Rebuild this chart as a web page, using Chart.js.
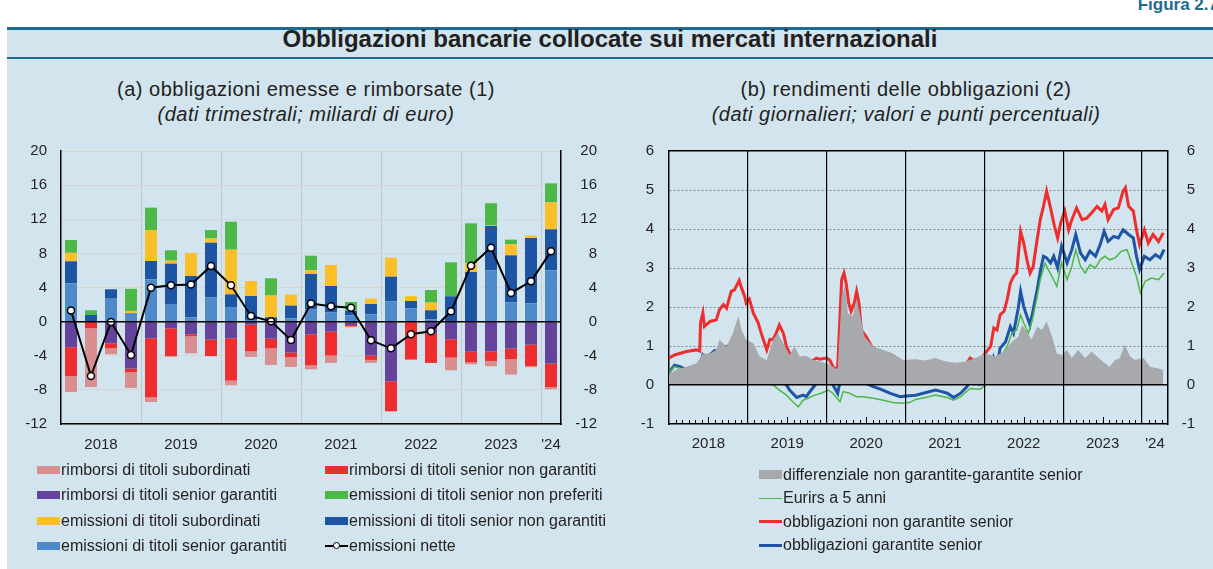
<!DOCTYPE html>
<html lang="it">
<head>
<meta charset="utf-8">
<title>Obbligazioni bancarie collocate sui mercati internazionali</title>
<script src="https://cdn.jsdelivr.net/npm/chart.js@4.4.1/dist/chart.umd.min.js"></script>
<style>
  body { margin:0; width:1213px; height:569px; position:relative; overflow:hidden; background:#fff;
         font-family:"Liberation Sans", Arial, sans-serif; color:#231f20; }
  #panel { position:absolute; left:7px; right:0; top:28px; bottom:0; background:#d2e4ee; }
  .rule { position:absolute; left:7px; right:0; background:#1d6b8f; }
  #fig { position:absolute; right:-5px; top:-5px; font-weight:bold; font-size:17px; color:#1d6b8f; white-space:nowrap; }
  #title { position:absolute; left:7px; right:0; top:28px; height:22px; line-height:22px; text-align:center; font-weight:bold; font-size:24px; }
  .sub { position:absolute; top:77px; width:440px; text-align:center; font-size:20px; line-height:25px; letter-spacing:0.5px; white-space:nowrap; }
  .sub i { display:block; }
  .wrap { position:absolute; top:137px; height:328px; overflow:hidden; }
  .wrap canvas { position:absolute; left:0; top:-2px; }
  .legend { position:absolute; display:grid; font-size:16px; }
  .item { display:flex; align-items:center; white-space:nowrap; }
  .sw { width:23px; flex:none; margin-right:1px; position:relative; }
  .dot { position:absolute; left:8px; top:-3px; width:5px; height:5px; border:1.5px solid #000; border-radius:50%; background:#fff; }
</style>
</head>
<body>
<div id="panel"></div>
<div id="fig">Figura 2.7</div>
<div class="rule" style="top:27px;height:3px"></div>
<div id="title">Obbligazioni bancarie collocate sui mercati internazionali</div>
<div class="rule" style="top:57px;height:2px"></div>
<div class="sub" style="left:86px">(a) obbligazioni emesse e rimborsate (1)<i>(dati trimestrali; miliardi di euro)</i></div>
<div class="sub" style="left:686px">(b) rendimenti delle obbligazioni (2)<i>(dati giornalieri; valori e punti percentuali)</i></div>

<div class="wrap" style="left:0;width:610px"><canvas id="cA" width="610" height="330"></canvas></div>
<div class="wrap" style="left:610px;width:603px"><canvas id="cB" width="603" height="330"></canvas></div>

<div id="legA" class="legend" style="left:37px;top:457px;grid-template-columns:288px auto;grid-auto-rows:25.5px"></div>
<div id="legB" class="legend" style="left:759px;top:463px;grid-template-columns:auto;grid-auto-rows:23.5px"></div>

<script>
Chart.defaults.font.family = '"Liberation Sans", Arial, sans-serif';
Chart.defaults.font.size = 15;
Chart.defaults.color = '#231f20';
Chart.defaults.animation = false;

// ---- (a) obbligazioni emesse e rimborsate, miliardi di euro ----
const quarters = [
  '2018 T1','2018 T2','2018 T3','2018 T4',
  '2019 T1','2019 T2','2019 T3','2019 T4',
  '2020 T1','2020 T2','2020 T3','2020 T4',
  '2021 T1','2021 T2','2021 T3','2021 T4',
  '2022 T1','2022 T2','2022 T3','2022 T4',
  '2023 T1','2023 T2','2023 T3','2023 T4',
  '2024 T1'
];
const emSeniorGarantiti    = [4.5, 0, 2.77, 1.0, 4.96, 2.07, 0.5, 2.85, 1.64, 0.2, 0, 0.39, 1.45, 1.09, 0.74, 0.86, 2.38, 1.56, 0.27, 0, 0, 6.02, 2.27, 2.15, 6.02];
const emSeniorNonGarantiti = [2.57, 0.78, 1.02, 0, 2.15, 4.73, 4.85, 6.4, 1.56, 2.8, 0.5, 1.49, 4.14, 3.09, 0.51, 1.21, 2.89, 0.86, 1.06, 2.97, 5.82, 5.2, 5.5, 7.65, 4.8];
const emSubordinati        = [1.0, 0, 0, 0.25, 3.63, 0.35, 2.7, 0.5, 5.23, 1.76, 2.55, 1.28, 0.43, 2.46, 0, 0.63, 2.23, 0.58, 0.9, 0, 1.02, 0.1, 1.29, 0.28, 3.16];
const emNonPreferiti       = [1.5, 0.55, 0, 2.6, 2.62, 1.21, 0, 0.98, 3.28, 0, 2.03, 0, 1.71, 0, 1.05, 0, 0, 0, 1.48, 3.98, 4.68, 2.56, 0.55, 0, 2.23];
const rimbSeniorGarantiti  = [-3.0, 0, -2.54, -5.5, -1.95, -0.78, -1.48, -2.1, -1.95, -0.35, -2.0, -3.63, -1.48, -1.17, -0.39, -3.98, -6.99, 0, -1.37, -2.07, -3.52, -3.48, -3.16, -2.7, -4.92];
const rimbSeniorNonGar     = [-3.4, -0.78, -0.59, -0.44, -6.92, -3.24, -0.24, -1.95, -4.96, -3.13, -1.13, -0.55, -3.64, -2.81, -0.16, -0.51, -3.52, -4.45, -3.47, -2.15, -1.25, -1.13, -1.25, -2.5, -2.74];
const rimbSubordinati      = [-1.84, -6.88, -0.7, -1.83, -0.55, -0.12, -2.0, 0, -0.55, -0.66, -1.95, -1.13, -0.47, -0.86, -0.11, -0.35, 0, 0, 0, -1.48, -0.23, -0.62, -1.8, -0.15, -0.27];
const emissioniNette       = [1.29, -6.37, -0.04, -3.9, 3.98, 4.26, 4.34, 6.52, 4.26, 0.66, 0.04, -2.15, 2.11, 1.8, 1.64, -2.19, -3.13, -1.48, -1.13, 1.21, 6.56, 8.67, 3.36, 4.73, 8.24];

// ---- (b) rendimenti, dati giornalieri (letti a intervalli) ----
const nonGarT = [2018.00,2018.07,2018.22,2018.35,2018.39,2018.40,2018.43,2018.45,2018.52,2018.60,2018.64,2018.69,2018.73,2018.79,2018.83,2018.89,2018.92,2018.96,2018.98,2019.02,2019.07,2019.13,2019.17,2019.24,2019.28,2019.32,2019.36,2019.40,2019.45,2019.49,2019.53,2019.57,2019.66,2019.72,2019.78,2019.87,2019.91,2020.00,2020.04,2020.10,2020.14,2020.19,2020.22,2020.25,2020.28,2020.31,2020.35,2020.38,2020.41,2020.44,2020.50,2020.57,2020.63,2020.72,2020.80,2020.88,2020.95,2021.01,2021.08,2021.17,2021.25,2021.34,2021.40,2021.46,2021.53,2021.59,2021.65,2021.74,2021.82,2021.89,2021.95,2022.01,2022.08,2022.12,2022.16,2022.20,2022.25,2022.29,2022.33,2022.37,2022.41,2022.46,2022.50,2022.54,2022.58,2022.62,2022.67,2022.71,2022.75,2022.79,2022.84,2022.89,2022.93,2022.97,2023.02,2023.07,2023.11,2023.17,2023.24,2023.30,2023.36,2023.43,2023.49,2023.53,2023.57,2023.64,2023.70,2023.76,2023.79,2023.83,2023.89,2023.93,2023.97,2024.03,2024.08,2024.14,2024.21,2024.27];
const nonGarV = [0.69,0.77,0.86,0.9,0.87,1.6,1.85,1.5,1.63,1.67,1.93,2.06,1.97,2.4,2.44,2.68,2.49,2.27,2.1,2.2,1.84,1.6,1.33,0.9,1.17,1.16,1.33,1.54,1.33,0.99,0.81,0.73,0.51,0.47,0.56,0.69,0.66,0.69,0.64,0.39,0.47,2.7,2.87,2.57,2.1,1.89,2.1,2.4,2.1,1.41,1.24,0.99,0.81,0.69,0.56,0.34,0.39,0.42,0.47,0.43,0.49,0.47,0.6,0.39,0.3,0.21,0.3,0.43,0.69,0.6,0.66,0.81,0.99,1.46,1.41,1.8,1.89,2.19,2.61,2.78,2.87,3.94,3.64,3.21,2.87,3.04,3.73,4.24,4.58,4.97,4.54,4.07,3.77,4.16,4.46,3.98,4.24,4.54,4.24,4.28,4.41,4.58,4.46,4.63,4.24,4.5,4.54,4.97,5.06,4.58,4.46,3.98,3.6,3.98,3.64,3.86,3.68,3.9];

const garT = [2018.00,2018.07,2018.14,2018.22,2018.33,2018.39,2018.43,2018.47,2018.58,2018.64,2018.73,2018.77,2018.83,2018.94,2019.04,2019.11,2019.19,2019.28,2019.36,2019.45,2019.53,2019.62,2019.70,2019.74,2019.81,2019.87,2019.95,2020.02,2020.08,2020.14,2020.19,2020.25,2020.31,2020.42,2020.50,2020.59,2020.69,2020.80,2020.93,2021.01,2021.13,2021.25,2021.38,2021.46,2021.53,2021.61,2021.70,2021.78,2021.82,2021.89,2021.95,2022.01,2022.08,2022.12,2022.16,2022.20,2022.27,2022.33,2022.37,2022.43,2022.46,2022.50,2022.54,2022.58,2022.62,2022.67,2022.71,2022.75,2022.79,2022.84,2022.88,2022.93,2022.98,2023.05,2023.11,2023.16,2023.22,2023.28,2023.34,2023.41,2023.47,2023.52,2023.57,2023.64,2023.70,2023.76,2023.83,2023.89,2023.93,2023.97,2024.03,2024.10,2024.17,2024.23,2024.28];
const garV = [0.32,0.51,0.47,0.39,0.43,0.47,0.77,0.69,0.88,0.81,0.99,1.0,0.92,0.88,0.81,0.73,0.39,0.34,0.3,0.13,-0.13,-0.32,-0.26,-0.3,-0.11,0.04,0.06,0.13,0.0,-0.21,0.3,0.3,0.21,0.15,0.04,-0.04,-0.11,-0.21,-0.3,-0.28,-0.26,-0.2,-0.13,-0.17,-0.21,-0.32,-0.21,-0.04,0.13,0.04,0.02,0.13,0.21,0.69,0.47,0.94,1.11,1.5,1.33,1.97,2.4,2.01,1.76,1.54,1.93,2.44,2.91,3.3,3.26,3.13,3.3,3.0,3.56,3.13,3.47,3.86,3.38,3.21,3.43,3.3,3.6,3.94,3.68,3.81,3.77,3.98,3.86,3.77,3.3,2.96,3.3,3.21,3.34,3.26,3.47];

const eurirsT = [2018.00,2018.07,2018.14,2018.22,2018.33,2018.39,2018.43,2018.52,2018.60,2018.69,2018.75,2018.81,2018.90,2018.98,2019.07,2019.15,2019.24,2019.32,2019.40,2019.49,2019.57,2019.64,2019.70,2019.76,2019.85,2019.93,2020.02,2020.08,2020.17,2020.21,2020.29,2020.38,2020.46,2020.59,2020.72,2020.84,2020.95,2021.05,2021.13,2021.25,2021.38,2021.53,2021.61,2021.70,2021.82,2021.95,2022.01,2022.08,2022.12,2022.18,2022.22,2022.29,2022.35,2022.41,2022.46,2022.50,2022.56,2022.62,2022.67,2022.71,2022.77,2022.81,2022.86,2022.92,2022.98,2023.05,2023.11,2023.16,2023.22,2023.28,2023.34,2023.41,2023.47,2023.53,2023.59,2023.66,2023.74,2023.81,2023.87,2023.93,2023.98,2024.04,2024.12,2024.21,2024.28];
const eurirsV = [0.32,0.47,0.43,0.39,0.43,0.4,0.3,0.26,0.3,0.3,0.43,0.34,0.26,0.2,0.13,0.11,0.03,0.0,-0.13,-0.26,-0.43,-0.56,-0.39,-0.34,-0.26,-0.21,-0.13,-0.21,-0.43,-0.17,-0.21,-0.3,-0.3,-0.34,-0.39,-0.45,-0.47,-0.45,-0.37,-0.32,-0.26,-0.32,-0.39,-0.3,-0.09,-0.11,0.0,0.13,0.47,0.3,0.77,0.99,1.33,1.41,1.8,1.59,1.33,1.76,2.27,2.7,3.13,2.96,2.78,2.53,3.13,2.7,3.04,3.47,3.04,2.87,3.08,3.0,3.21,3.3,3.21,3.26,3.43,3.47,3.13,2.78,2.36,2.66,2.74,2.7,2.87];

const diffT = [2018.00,2018.09,2018.22,2018.35,2018.43,2018.52,2018.60,2018.64,2018.73,2018.81,2018.88,2018.92,2018.98,2019.07,2019.15,2019.24,2019.32,2019.38,2019.45,2019.53,2019.59,2019.66,2019.74,2019.83,2019.91,2020.00,2020.08,2020.14,2020.19,2020.23,2020.27,2020.33,2020.38,2020.42,2020.48,2020.59,2020.72,2020.84,2020.97,2021.13,2021.25,2021.38,2021.51,2021.63,2021.76,2021.89,2022.01,2022.14,2022.27,2022.35,2022.43,2022.48,2022.54,2022.60,2022.67,2022.73,2022.79,2022.86,2022.92,2022.98,2023.05,2023.11,2023.19,2023.28,2023.36,2023.45,2023.53,2023.59,2023.66,2023.72,2023.78,2023.85,2023.91,2024.02,2024.10,2024.19,2024.27];
const diffV = [0.26,0.39,0.47,0.56,0.81,0.81,0.9,1.16,0.99,1.33,1.77,1.41,1.16,1.07,0.73,0.64,1.16,1.33,1.07,0.77,0.99,0.73,0.75,0.64,0.6,0.56,0.47,0.39,2.27,2.53,1.84,1.76,2.19,1.84,1.24,0.99,0.9,0.81,0.64,0.66,0.63,0.69,0.6,0.57,0.6,0.69,0.81,0.73,0.9,1.11,1.24,1.54,1.37,1.16,1.5,1.41,1.63,1.24,0.81,0.77,0.9,0.69,0.9,0.69,0.86,0.69,0.56,0.47,0.64,0.69,1.03,0.73,0.64,0.69,0.47,0.43,0.39];

const yearsB = [2018, 2019, 2020, 2021, 2022, 2023, 2024];
const xMinB = 2018, xMaxB = 2024.33;

// ---- helpers ----
const shortYear = y => (y === '2024' || y === 2024) ? "'24" : String(y);

const groupsA = {};
quarters.forEach((q, i) => { const y = q.slice(0, 4); (groupsA[y] = groupsA[y] || []).push(i); });
const yearTicksA = Object.keys(groupsA).map(y => ({
  value: (groupsA[y][0] + groupsA[y][groupsA[y].length - 1] + 1) / 2,
  label: shortYear(y)
}));
const yearTicksB = yearsB.map(y => ({ value: (y + Math.min(y + 1, xMaxB)) / 2, label: shortYear(y) }));
const pts = (t, v) => t.map((x, i) => ({ x, y: v[i] }));

// label gap done with invisible tick marks, so ticks.padding does not push the plot top down
const gap = n => ({ drawTicks: true, tickLength: n, tickColor: 'rgba(0,0,0,0)' });

const barDefs = [
  [emSeniorGarantiti,    'emissioni di titoli senior garantiti',     '#4f8ac8'],
  [emSeniorNonGarantiti, 'emissioni di titoli senior non garantiti', '#1d55a4'],
  [emSubordinati,        'emissioni di titoli subordinati',          '#fcbf2a'],
  [emNonPreferiti,       'emissioni di titoli senior non preferiti', '#4db848'],
  [rimbSeniorGarantiti,  'rimborsi di titoli senior garantiti',      '#65439a'],
  [rimbSeniorNonGar,     'rimborsi di titoli senior non garantiti',  '#ee2d2f'],
  [rimbSubordinati,      'rimborsi di titoli subordinati',           '#d98f8f'],
];

const chartA = new Chart(document.getElementById('cA'), {
  type: 'bar',
  data: {
    labels: quarters,
    datasets: [
      ...barDefs.map(([d, l, c]) => ({
        label: l, data: d, backgroundColor: c, stack: 'flussi', order: 1,
        barPercentage: 0.6, categoryPercentage: 1
      })),
      {
        type: 'line', label: 'emissioni nette', data: emissioniNette, stack: 'nette', order: 0,
        borderColor: '#000', borderWidth: 2, pointRadius: 3.5, pointBackgroundColor: '#fff',
        pointBorderColor: '#000', pointBorderWidth: 1.5
      }
    ]
  },
  options: {
    responsive: false,
    layout: { padding: { top: 16, right: 13 } },
    plugins: { legend: { display: false }, tooltip: { enabled: false } },
    scales: {
      x: {
        type: 'category', offset: true,
        ticks: { display: false },
        grid: {
          offset: true, drawTicks: false,
          color: c => (c.index > 0 && c.index % 4 === 0 && c.index < quarters.length) ? '#c8c8c8' : 'rgba(0,0,0,0)'
        },
        border: { color: '#000', width: 1.5 },
        afterFit: s => { s.height = 0; }
      },
      xYear: {
        type: 'linear', position: 'bottom', offset: false, min: 0, max: quarters.length,
        afterBuildTicks: s => { s.ticks = yearTicksA.map(t => ({ value: t.value })); },
        ticks: { padding: 12, autoSkip: false, maxRotation: 0, callback: (v, i) => yearTicksA[i].label },
        grid: { display: false, drawTicks: false }, border: { display: false },
        afterFit: s => { s.height = 41; }
      },
      y: {
        position: 'left', stacked: true, min: -12, max: 20,
        ticks: { stepSize: 4, padding: 0 },
        grid: { ...gap(14), color: '#d6d6d6' },
        border: { color: '#000', width: 1.5 },
        afterFit: s => { s.width = 61; }
      },
      yz: {
        position: 'left', min: -12, max: 20,
        afterBuildTicks: s => { s.ticks = [{ value: 0 }]; },
        ticks: { display: false },
        grid: { color: '#000', lineWidth: 1.5, drawTicks: false, z: 1 },
        border: { display: false },
        afterFit: s => { s.width = 0; }
      },
      y2: {
        position: 'right', min: -12, max: 20,
        ticks: { stepSize: 4, padding: 0, crossAlign: 'far' },
        grid: { ...gap(14), display: false },
        border: { color: '#000', width: 1.5 },
        afterFit: s => { s.width = 36; }
      }
    }
  }
});

// small monthly ticks along the bottom of panel (b)
const monthTicks = {
  id: 'monthTicks',
  afterDatasetsDraw(chart) {
    const { ctx, chartArea, scales: { x } } = chart;
    ctx.save();
    ctx.strokeStyle = '#000';
    ctx.lineWidth = 1;
    for (let m = 1; x.min + m / 12 < x.max; m++) {
      if (m % 12 === 0) continue;
      const px = Math.round(x.getPixelForValue(x.min + m / 12)) + 0.5;
      const h = m % 12 === 6 ? 7 : 4;
      ctx.beginPath();
      ctx.moveTo(px, chartArea.bottom);
      ctx.lineTo(px, chartArea.bottom - h);
      ctx.stroke();
    }
    ctx.restore();
  }
};

const chartB = new Chart(document.getElementById('cB'), {
  type: 'line',
  data: {
    datasets: [
      { label: 'differenziale non garantite-garantite senior', data: pts(diffT, diffV), fill: 'origin',
        backgroundColor: '#a7a9ac', borderColor: 'rgba(0,0,0,0)', borderWidth: 1, pointRadius: 0 },
      { label: 'Eurirs a 5 anni', data: pts(eurirsT, eurirsV), borderColor: '#4db848', borderWidth: 1.5, pointRadius: 0 },
      { label: 'obbligazioni non garantite senior', data: pts(nonGarT, nonGarV), borderColor: '#ee2d2f', borderWidth: 3, pointRadius: 0 },
      { label: 'obbligazioni garantite senior', data: pts(garT, garV), borderColor: '#1d55a4', borderWidth: 3, pointRadius: 0 }
    ]
  },
  options: {
    responsive: false,
    layout: { padding: { top: 16, right: 18 } },
    plugins: { legend: { display: false }, tooltip: { enabled: false } },
    scales: {
      x: {
        type: 'linear', min: xMinB, max: xMaxB,
        afterBuildTicks: s => { s.ticks = yearsB.slice(1).map(y => ({ value: y })); },
        ticks: { display: false },
        grid: { color: '#000', lineWidth: 1.2, drawTicks: false, z: 1 },
        border: { display: false },
        afterFit: s => { s.height = 0; }
      },
      xLab: {
        type: 'linear', position: 'bottom', min: xMinB, max: xMaxB,
        afterBuildTicks: s => { s.ticks = yearTicksB.map(t => ({ value: t.value })); },
        ticks: { padding: 11, autoSkip: false, maxRotation: 0, callback: (v, i) => yearTicksB[i].label },
        grid: { display: false, drawTicks: false }, border: { display: false },
        afterFit: s => { s.height = 41; }
      },
      y: {
        position: 'left', min: -1, max: 6,
        ticks: { stepSize: 1, padding: 0 },
        grid: { ...gap(15), color: c => (c.tick.value > 0 && c.tick.value < 6) ? '#8a8a8a' : 'rgba(0,0,0,0)' },
        border: { color: '#000', width: 1.5, dash: [2, 2] },
        afterFit: s => { s.width = 59; }
      },
      yz: {
        position: 'left', min: -1, max: 6,
        afterBuildTicks: s => { s.ticks = [{ value: -1 }, { value: 0 }, { value: 6 }]; },
        ticks: { display: false },
        grid: { color: '#000', lineWidth: 1.4, drawTicks: false, z: 1 },
        border: { display: false },
        afterFit: s => { s.width = 0; }
      },
      y2: {
        position: 'right', min: -1, max: 6,
        ticks: { stepSize: 1, padding: 0, crossAlign: 'far' },
        grid: { ...gap(14), display: false },
        border: { color: '#000', width: 1.5 },
        afterFit: s => { s.width = 27; }
      }
    }
  },
  plugins: [monthTicks]
});

// ---- HTML legends built from the chart datasets ----
function buildLegend(el, chart, order) {
  order.forEach(i => {
    const ds = chart.data.datasets[i];
    const item = document.createElement('div');
    item.className = 'item';
    const sw = document.createElement('span');
    sw.className = 'sw';
    if (ds.type === 'line' && ds.pointRadius) {
      sw.style.height = '2px'; sw.style.background = ds.borderColor;
      const dot = document.createElement('span'); dot.className = 'dot'; sw.appendChild(dot);
    } else if (ds.fill || chart.config.type === 'bar') {
      sw.style.height = ds.fill ? '9px' : '8px'; sw.style.background = ds.backgroundColor;
    } else {
      sw.style.height = ds.borderWidth + 'px'; sw.style.background = ds.borderColor;
    }
    item.appendChild(sw);
    item.appendChild(document.createTextNode(ds.label));
    el.appendChild(item);
  });
}
buildLegend(document.getElementById('legA'), chartA, [6, 5, 4, 3, 2, 1, 0, 7]);
buildLegend(document.getElementById('legB'), chartB, [0, 1, 2, 3]);
</script>
</body>
</html>
